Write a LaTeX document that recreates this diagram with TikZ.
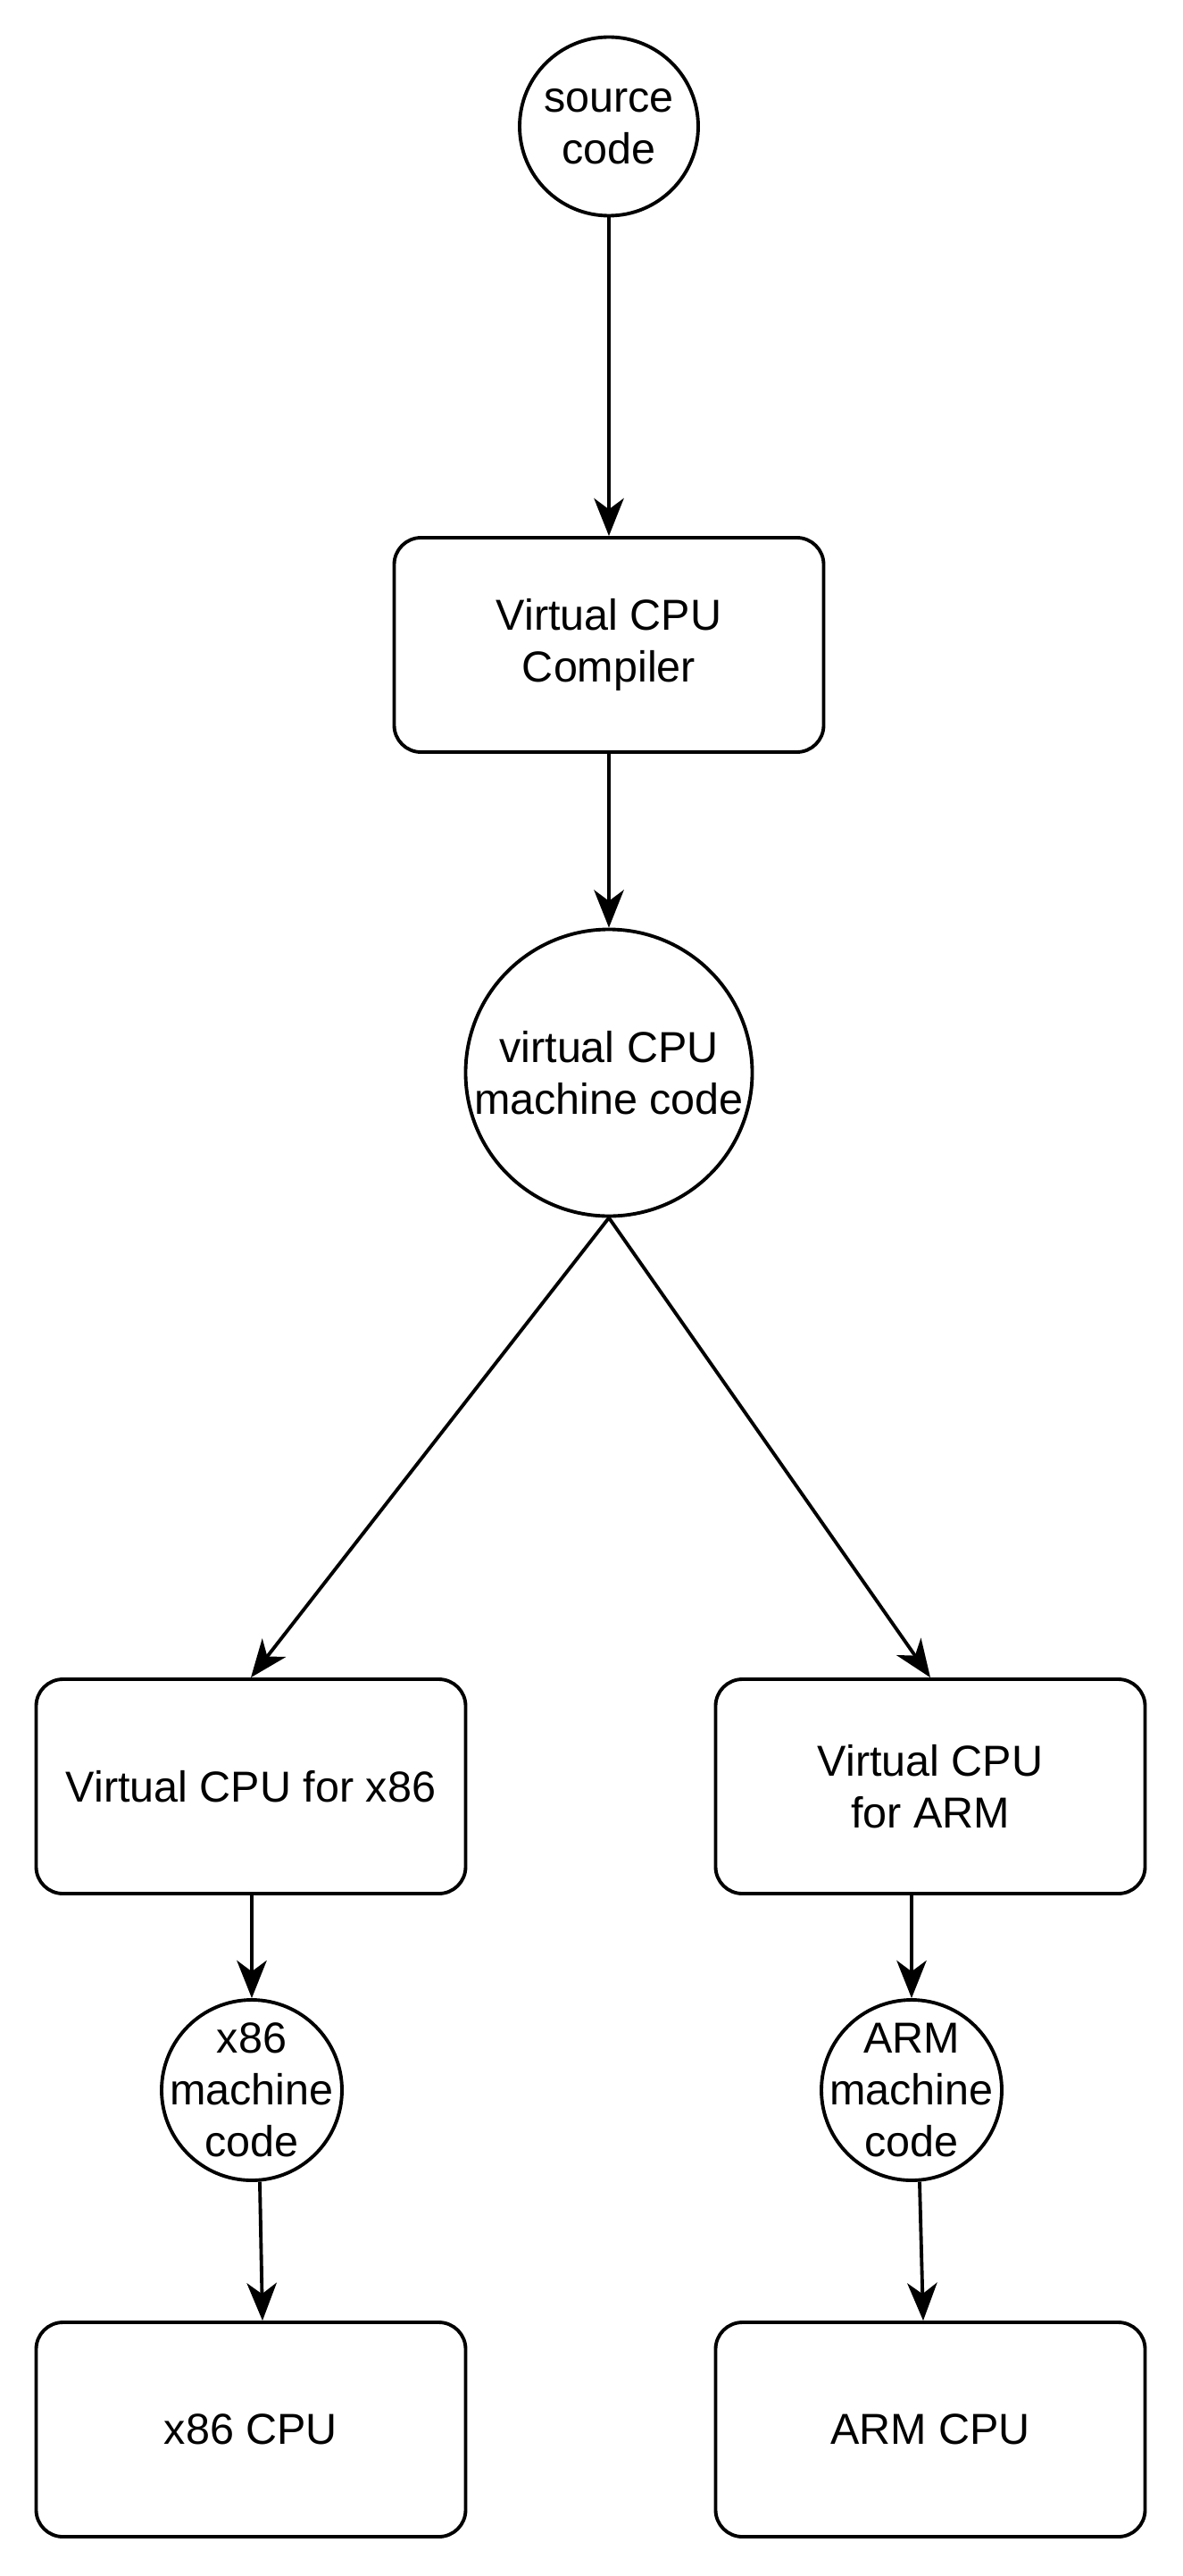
\documentclass[tikz,border=0pt]{standalone}
\usepackage{fontspec}
\setmainfont{Liberation Sans}
\usepackage{tikz}
\usetikzlibrary{arrows.meta}

\begin{document}
\begin{tikzpicture}[
    line width=1.1pt,
    font=\fontsize{13.8}{16.5}\selectfont,
    block/.style={rectangle, draw, rounded corners=3mm, minimum width=4.81cm, minimum height=2.4cm, align=center},
    data/.style={circle, draw, inner sep=0pt, align=center},
    arrow/.style={draw, -{Stealth[length=12pt, width=9.5pt, inset=3.5pt]}}
]
\useasboundingbox (0,0) rectangle (13.24,-28.84);

% Define node positions
\node[data, minimum size=2cm] (src) at (6.82, -1.415) {source\\code};
\node[block] (comp) at (6.82, -7.22) {Virtual CPU\\Compiler};
\node[data, minimum size=3.21cm] (vmc) at (6.82, -12.01) {virtual CPU\\machine code};
\node[block] (vx86) at (2.81, -20.0) {Virtual CPU for x86};
\node[block] (varm) at (10.42, -20.0) {Virtual CPU\\for ARM};
\node[data, minimum size=2.02cm, label={[align=center]center:x86\\machine\\code}] (mx86) at (2.82, -23.40) {};
\node[data, minimum size=2.02cm, label={[align=center]center:ARM\\machine\\code}] (marm) at (10.21, -23.40) {};
\node[block] (cx86) at (2.81, -27.2) {x86 CPU};
\node[block] (carm) at (10.42, -27.2) {ARM CPU};

% Draw arrows
\draw[arrow] (src) -- (comp);
\draw[arrow] (comp) -- (vmc);
\draw[arrow] (vmc.south) -- (vx86.north);
\draw[arrow] (vmc.south) -- (varm.north);
\draw[arrow] (vx86.south -| mx86) -- (mx86);
\draw[arrow] (varm.south -| marm) -- (marm);
\draw[arrow] (mx86.-85) -- ([xshift=1.3mm]cx86.north);
\draw[arrow] (marm.-85) -- ([xshift=-0.8mm]carm.north);

\end{tikzpicture}
\end{document}
